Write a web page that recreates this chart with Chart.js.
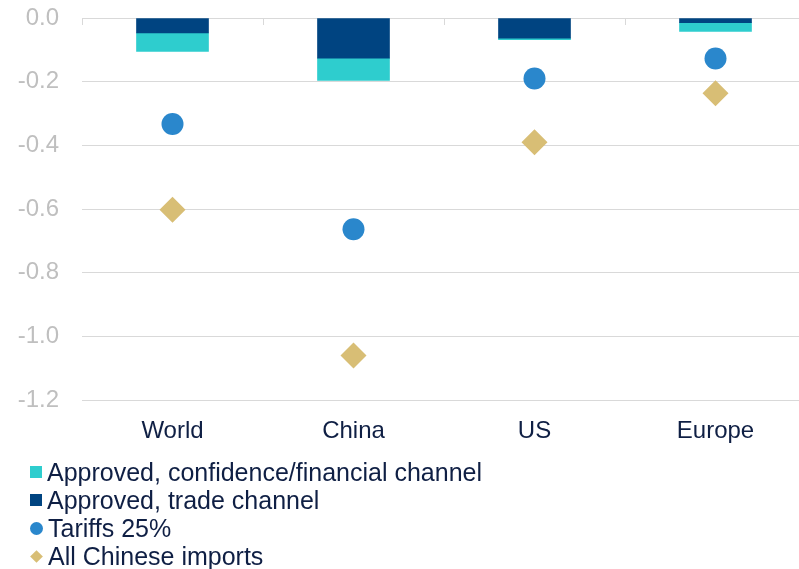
<!DOCTYPE html>
<html>
<head>
<meta charset="utf-8">
<script src="https://cdn.jsdelivr.net/npm/chart.js@4/dist/chart.umd.min.js"></script>
<style>
  body { margin: 0; background: #fff; overflow: hidden; font-family: "Liberation Sans", Arial, sans-serif; }
  #wrap { position: absolute; left: 0; top: 0; width: 808px; height: 468px; }
  #legend { position: absolute; left: 30px; top: 458px; color: #0f1f44; font-size: 25px; line-height: 28px; }
  .item { display: flex; align-items: center; white-space: nowrap; }
  .mk { width: 12px; height: 12px; margin-right: 5px; flex: none; }
</style>
</head>
<body>
<div id="wrap"><canvas id="myChart" width="808" height="468"></canvas></div>
<div id="legend"></div>
<script>
// data
const categories = ['World', 'China', 'US', 'Europe'];
const tradeChannel = [-0.047, -0.126, -0.063, -0.015];
const confidenceChannel = [-0.058, -0.070, -0.005, -0.027];
const tariffs25 = [-0.333, -0.663, -0.190, -0.127];
const allChineseImports = [-0.602, -1.060, -0.390, -0.236];
const yTicks = [-1.2, -1.0, -0.8, -0.6, -0.4, -0.2, 0];

const navy = '#004481';
const aqua = '#2ecdce';
const blue = '#2a87cc';
const sand = '#d8be75';
const textColor = '#0f1f44';

// small tick marks hanging from the zero line between categories
const topTicks = {
  id: 'topTicks',
  afterDraw(chart) {
    const x = chart.scales.x, y = chart.scales.y, ctx = chart.ctx;
    const y0 = y.getPixelForValue(0);
    const step = x.getPixelForValue(1) - x.getPixelForValue(0);
    ctx.save();
    ctx.strokeStyle = '#d9d9d9';
    ctx.lineWidth = 1;
    for (let i = 0; i <= categories.length; i++) {
      const px = Math.round(x.getPixelForValue(0) - step / 2 + i * step) + 0.5;
      ctx.beginPath();
      ctx.moveTo(px, y0);
      ctx.lineTo(px, y0 + 7);
      ctx.stroke();
    }
    ctx.restore();
  }
};

const canvas = document.getElementById('myChart').getContext('2d');
const myChart = new Chart(canvas, {
  type: 'bar',
  data: {
    labels: categories,
    datasets: [
      {
        type: 'line', label: 'Tariffs 25%', data: tariffs25, stack: 'p1',
        showLine: false, pointStyle: 'circle', pointRadius: 11, pointHoverRadius: 11,
        backgroundColor: blue, borderColor: blue, borderWidth: 0
      },
      {
        type: 'line', label: 'All Chinese imports', data: allChineseImports, stack: 'p2',
        showLine: false, pointStyle: 'rectRot', pointRadius: 13, pointHoverRadius: 13,
        backgroundColor: sand, borderColor: sand, borderWidth: 0
      },
      { label: 'Approved, trade channel', data: tradeChannel, stack: 'bars', backgroundColor: navy, barThickness: 72 },
      { label: 'Approved, confidence/financial channel', data: confidenceChannel, stack: 'bars', backgroundColor: aqua, barThickness: 72 }
    ]
  },
  options: {
    responsive: false,
    animation: false,
    layout: { autoPadding: false, padding: { top: 18, right: 2, bottom: 5, left: 0 } },
    plugins: { legend: { display: false }, tooltip: { enabled: false } },
    scales: {
      x: {
        stacked: true,
        grid: { display: false, drawTicks: false },
        border: { display: false },
        ticks: { color: textColor, font: { size: 24, family: '"Liberation Sans", Arial' }, padding: 17 }
      },
      y: {
        stacked: true,
        min: -1.2, max: 0,
        afterFit(s) { s.width = 82; s.paddingTop = 0; s.paddingBottom = 0; },
        afterBuildTicks(s) { s.ticks = yTicks.map(v => ({ value: v })); },
        grid: { color: '#d9d9d9', lineWidth: 1, drawTicks: false },
        border: { display: false },
        ticks: {
          color: '#bfbfbf', padding: 23,
          font: { size: 24, family: '"Liberation Sans", Arial' },
          callback: v => Number(v).toFixed(1)
        }
      }
    }
  },
  plugins: [topTicks]
});

// legend in the order of the picture
const legendItems = [
  { label: 'Approved, confidence/financial channel', color: aqua, shape: 'square' },
  { label: 'Approved, trade channel', color: navy, shape: 'square' },
  { label: 'Tariffs 25%', color: blue, shape: 'circle' },
  { label: 'All Chinese imports', color: sand, shape: 'diamond' }
];
const legend = document.getElementById('legend');
legendItems.forEach(it => {
  const row = document.createElement('div');
  row.className = 'item';
  const mk = document.createElement('span');
  mk.className = 'mk';
  mk.style.background = it.color;
  if (it.shape === 'circle') { mk.style.borderRadius = '50%'; mk.style.width = '13px'; mk.style.height = '13px'; }
  if (it.shape === 'diamond') { mk.style.width = '9px'; mk.style.height = '9px'; mk.style.transform = 'rotate(45deg)'; mk.style.margin = '0 7px 0 2px'; }
  row.appendChild(mk);
  const t = document.createElement('span');
  t.textContent = it.label;
  row.appendChild(t);
  legend.appendChild(row);
});
</script>
</body>
</html>
